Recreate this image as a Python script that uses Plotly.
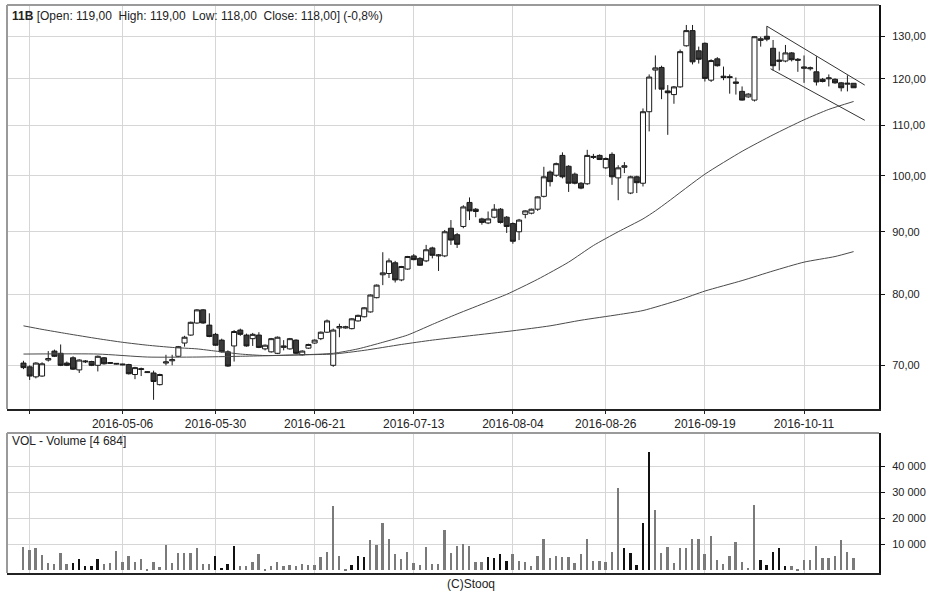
import pandas as pd
import plotly.graph_objects as go

# ---------------- data ----------------
holidays = ["2016-05-03", "2016-05-26", "2016-08-15"]
dates = [d.strftime("%Y-%m-%d") for d in pd.bdate_range("2016-04-13", "2016-10-21")
         if d.strftime("%Y-%m-%d") not in holidays]
xpos = list(range(len(dates)))

opens = [70.3, 69.8, 68.5, 68.6, 70.7, 71.9, 71.6, 70.3, 71.0, 69.4,
         70.45, 70.5, 70.0, 71.0, 70.25, 70.15, 70.05, 70.1, 68.8, 69.45,
         69.05, 69.0, 67.5, 70.3, 70.6, 71.2, 73.0, 74.1, 75.8, 77.7,
         75.5, 74.2, 73.4, 71.8, 72.6, 74.8, 74.1, 73.6, 74.1, 72.2,
         71.8, 71.6, 72.4, 72.2, 73.4, 71.4, 72.3, 73.0, 73.6, 74.5,
         70.0, 75.1, 75.1, 75.0, 76.1, 76.7, 77.4, 79.5, 83.0, 83.2,
         84.9, 82.2, 83.9, 86.0, 85.6, 85.2, 87.3, 86.0, 86.0, 90.6,
         89.5, 90.9, 95.1, 93.9, 92.2, 91.5, 92.5, 93.9, 92.5, 91.4,
         90.0, 93.0, 93.2, 93.9, 96.2, 100.7, 100.1, 103.9, 101.8, 100.3,
         98.6, 98.5, 103.5, 103.9, 101.5, 104.1, 99.6, 101.6, 96.8, 99.8,
         98.6, 112.8, 122.0, 122.6, 117.3, 116.5, 118.2, 127.7, 131.4, 126.5,
         128.3, 119.7, 124.6, 120.6, 120.5, 119.3, 117.2, 116.0, 115.3, 129.0,
         130.0, 127.1, 124.0, 124.1, 126.0, 124.5, 122.4, 122.3, 121.6, 119.9,
         120.0, 119.9, 119.1, 118.8, 119.0]
highs = [70.6, 70.0, 70.4, 70.4, 71.9, 72.1, 72.8, 70.5, 71.2, 70.8,
         70.7, 70.6, 71.3, 71.1, 70.4, 70.3, 70.2, 70.2, 69.8, 69.7,
         69.2, 69.3, 68.9, 71.4, 71.4, 72.6, 74.0, 76.0, 77.8, 77.8,
         77.2, 74.4, 73.6, 72.0, 74.8, 75.0, 74.3, 74.4, 74.5, 72.8,
         73.7, 73.9, 73.4, 73.7, 73.5, 72.0, 72.9, 73.5, 74.6, 76.3,
         75.0, 75.7, 75.4, 76.5, 77.0, 78.1, 80.0, 81.5, 86.6, 85.6,
         85.2, 84.4, 86.0, 86.3, 85.8, 87.8, 87.5, 86.3, 90.3, 92.0,
         89.8, 94.6, 96.0, 94.1, 92.4, 93.5, 94.8, 94.1, 92.7, 91.6,
         92.2, 93.7, 94.0, 96.2, 101.7, 101.0, 102.5, 104.5, 102.0, 100.6,
         98.8, 105.0, 104.2, 104.1, 103.5, 104.5, 102.0, 102.6, 100.0, 100.0,
         113.5, 121.0, 125.4, 123.0, 118.6, 118.4, 126.8, 132.8, 132.8, 127.5,
         128.5, 124.5, 125.0, 122.8, 121.0, 120.3, 118.3, 116.8, 130.0, 129.9,
         132.5, 129.1, 126.3, 127.9, 126.2, 124.8, 125.4, 122.8, 125.2, 120.2,
         121.0, 120.1, 119.3, 120.8, 119.0]
lows = [69.5, 68.1, 68.3, 68.5, 70.5, 71.1, 69.9, 69.9, 69.4, 69.0,
        70.3, 69.9, 69.2, 70.1, 70.2, 70.1, 70.0, 68.8, 68.2, 68.6,
        69.0, 65.6, 67.4, 70.0, 70.0, 71.1, 72.5, 74.0, 75.7, 75.7,
        73.8, 72.6, 71.7, 69.8, 70.5, 74.0, 72.5, 72.6, 72.3, 72.0,
        71.7, 71.5, 72.0, 72.1, 71.5, 71.3, 72.2, 72.9, 73.4, 74.4,
        69.8, 73.8, 75.0, 74.9, 76.0, 76.6, 77.3, 79.4, 81.4, 82.5,
        81.8, 82.0, 83.8, 85.3, 84.4, 85.0, 85.6, 83.6, 85.8, 87.8,
        87.3, 90.6, 92.0, 92.5, 91.2, 91.3, 92.3, 91.4, 89.8, 88.0,
        88.6, 92.3, 93.0, 93.6, 96.0, 98.0, 99.8, 99.5, 97.0, 98.4,
        97.5, 98.3, 103.2, 103.0, 101.3, 98.3, 95.5, 100.5, 96.6, 96.8,
        98.0, 108.7, 117.6, 115.5, 108.0, 114.5, 118.0, 127.5, 123.3, 123.5,
        119.4, 119.3, 122.8, 119.7, 116.7, 116.5, 115.2, 115.8, 115.0, 127.5,
        128.8, 121.9, 121.9, 123.8, 124.0, 121.6, 119.1, 121.9, 118.5, 119.2,
        118.3, 118.9, 117.2, 117.2, 118.0]
closes = [69.7, 68.6, 70.3, 70.2, 70.9, 71.2, 70.0, 70.0, 69.5, 70.7,
          70.55, 70.0, 71.2, 70.2, 70.35, 70.25, 70.15, 68.9, 69.7, 69.55,
          69.15, 67.9, 68.8, 70.45, 70.75, 72.5, 73.8, 75.9, 77.7, 75.8,
          73.9, 72.7, 71.8, 69.9, 74.6, 74.2, 72.6, 74.2, 72.4, 72.7,
          73.6, 73.8, 72.6, 73.6, 71.6, 71.9, 72.8, 73.4, 74.5, 76.1,
          74.8, 75.3, 75.25, 76.4, 76.9, 78.0, 79.9, 81.4, 83.3, 85.2,
          82.2, 84.3, 85.9, 85.4, 84.5, 87.0, 86.1, 86.15, 90.0, 88.6,
          87.9, 94.3, 93.6, 93.5, 91.6, 92.2, 93.9, 91.6, 90.9, 88.4,
          92.0, 93.6, 93.9, 96.1, 99.8, 98.9, 102.3, 99.8, 98.6, 98.6,
          97.7, 103.9, 103.7, 103.1, 103.3, 99.8, 101.5, 101.9, 99.8, 98.7,
          112.8, 120.4, 122.5, 117.7, 116.9, 118.2, 126.3, 131.4, 123.9, 124.5,
          120.1, 124.2, 123.0, 120.3, 120.3, 119.0, 115.3, 116.6, 129.9, 129.4,
          129.3, 123.0, 124.3, 126.0, 124.4, 124.3, 122.7, 122.5, 119.3, 119.4,
          120.2, 119.1, 118.0, 119.0, 118.0]
volumes = [9000, 7700, 8600, 5800, 2800, 2300, 6700, 2600, 2800, 4400,
           1800, 1800, 4400, 2300, 2800, 7400, 3300, 5600, 3300, 4400,
           400, 3300, 1300, 9900, 2800, 6700, 6700, 6700, 8600, 2300,
           2300, 5500, 1000, 2300, 9400, 1700, 1700, 3100, 6200, 400,
           1500, 3200, 1800, 2100, 1800, 2300, 2100, 2100, 5100, 6900,
           24700, 5600, 400, 2100, 5500, 5100, 11500, 9700, 18200, 12200,
           6400, 4500, 6900, 2800, 2100, 9000, 2600, 2600, 15600, 6700,
           9500, 10000, 9200, 3200, 3200, 5100, 4900, 6200, 3800, 6200,
           3800, 3200, 1700, 5500, 11900, 4900, 5500, 5300, 5300, 2800,
           6200, 11900, 3800, 3800, 3200, 6900, 31800, 8700, 6700, 2100,
           18300, 45600, 23300, 6700, 9000, 2800, 8500, 8700, 11900, 11900,
           6200, 13200, 4100, 2300, 5400, 11000, 3200, 900, 25000, 4100,
           2100, 6900, 8700, 1500, 1800, 400, 4100, 4100, 9200, 4900,
           4900, 5400, 11500, 6900, 4684]
dark_volume_bars = [8, 9, 10, 11, 12, 31, 32, 33, 34, 53, 54, 55,
                    75, 76, 77, 78, 97, 98, 99, 100, 101, 119, 120, 121, 122, 123]

ma_fast_x = [0, 12, 20, 28, 35, 45, 50, 54, 58, 62, 66, 70, 75, 78, 83, 88,
             92, 96, 100, 102, 104, 110, 116, 121, 126, 130, 134]
ma_fast = [71.5, 71.5, 71.1, 71.1, 71.2, 71.4, 71.6, 72.2, 73.1, 74.1, 75.6, 77.1,
           78.9, 80.0, 82.3, 85.0, 87.7, 90.0, 92.2, 93.6, 95.2, 100.3, 104.7,
           108.0, 111.1, 113.3, 115.0]
ma_slow_x = [0, 3, 7, 12, 16, 20, 24, 28, 31, 35, 39, 45, 50, 55, 61, 66, 72,
             79, 85, 90, 96, 100, 106, 110, 116, 121, 126, 131, 134]
ma_slow = [75.4, 74.9, 74.3, 73.6, 73.1, 72.7, 72.4, 72.2, 71.9, 71.5, 71.3,
           71.4, 71.5, 72.0, 72.8, 73.4, 74.0, 74.7, 75.4, 76.2, 77.0, 77.6,
           79.2, 80.5, 82.1, 83.6, 85.0, 85.9, 86.7]

channel_top_x = [120.0, 135.8]
channel_top = [132.5, 118.6]
channel_bottom_x = [120.6, 135.8]
channel_bottom = [122.3, 111.0]

date_ticks = ["2016-04-14", "2016-05-06", "2016-05-30", "2016-06-21", "2016-07-13",
              "2016-08-04", "2016-08-26", "2016-09-19", "2016-10-11"]
date_tick_text = [""] + date_ticks[1:]
price_ticks = [70, 80, 90, 100, 110, 120, 130]
volume_ticks = [10000, 20000, 30000, 40000]

# ---------------- figure ----------------
W, H = 948, 593
ML, MR, MT, MB = 7, 69, 5, 20
PW, PH = W - ML - MR, H - MT - MB


def py(yp):  # screen px -> paper fraction
    return (H - MB - yp) / PH


def px(xp):
    return (xp - ML) / PW


FONT = "Liberation Sans, Arial, sans-serif"
GRID = "#d6d6d6"
TXT = "#222222"
price_dom = [py(409), 1]
vol_dom = [0, py(433)]

fmt_price = lambda v: f"{v:.2f}".replace(".", ",")
fmt_vol = lambda v: f"{v:,}".replace(",", " ")

fig = go.Figure()
fig.add_trace(go.Candlestick(
    x=xpos, open=opens, high=highs, low=lows, close=closes,
    increasing=dict(line=dict(color="#1a1a1a", width=1), fillcolor="#ffffff"),
    decreasing=dict(line=dict(color="#1a1a1a", width=1), fillcolor="#3a3a3a"),
    whiskerwidth=0, showlegend=False, hoverinfo="skip", xaxis="x", yaxis="y"))
fig.add_trace(go.Scatter(x=ma_slow_x, y=ma_slow, mode="lines",
                         line=dict(color="#4a4a4a", width=1, shape="spline", smoothing=0.6),
                         showlegend=False, hoverinfo="skip", xaxis="x", yaxis="y"))
fig.add_trace(go.Scatter(x=ma_fast_x, y=ma_fast, mode="lines",
                         line=dict(color="#4a4a4a", width=1, shape="spline", smoothing=0.6),
                         showlegend=False, hoverinfo="skip", xaxis="x", yaxis="y"))
for cx, cy in ((channel_top_x, channel_top), (channel_bottom_x, channel_bottom)):
    fig.add_trace(go.Scatter(x=cx, y=cy, mode="lines",
                             line=dict(color="#333333", width=1), showlegend=False,
                             hoverinfo="skip", xaxis="x", yaxis="y"))

vol_colors = ["#111111" if i in dark_volume_bars else "#7a7a7a" for i in xpos]
fig.add_trace(go.Bar(x=xpos, y=volumes, marker=dict(color=vol_colors, line=dict(width=0)),
                     width=0.3, showlegend=False, hoverinfo="skip", xaxis="x2", yaxis="y2"))

tick_idx = [dates.index(d) for d in date_ticks]
xr = [-2.66, 138.1]
common_x = dict(range=xr, tickvals=tick_idx, showgrid=True, gridcolor=GRID, gridwidth=1,
                zeroline=False, showline=True, linecolor="#222222", linewidth=2,
                fixedrange=True)
common_y = dict(side="right", showgrid=True, gridcolor=GRID, gridwidth=1, zeroline=False,
                showline=True, linecolor="#111111", linewidth=2, ticks="outside",
                ticklen=4, tickcolor="#111111", ticklabelstandoff=5,
                tickfont=dict(family=FONT, size=11, color=TXT))

header = (f"<b>11B</b> [Open: {fmt_price(opens[-1])}  High: {fmt_price(highs[-1])}  "
          f"Low: {fmt_price(lows[-1])}  Close: {fmt_price(closes[-1])}] "
          f"({fmt_price((closes[-1] / closes[-2] - 1) * 100)[:-1]}%)")
vol_header = f"VOL - Volume [{fmt_vol(volumes[-1])}]"

fig.update_layout(
    width=W, height=H, margin=dict(l=ML, r=MR, t=MT, b=MB),
    paper_bgcolor="white", plot_bgcolor="white", showlegend=False,
    font=dict(family=FONT, size=11, color=TXT),
    boxgap=0.1, boxgroupgap=0.1,
    xaxis=dict(**common_x, anchor="y", ticktext=date_tick_text, ticks="outside",
               ticklen=3, tickcolor="#222222", rangeslider=dict(visible=False),
               tickfont=dict(family=FONT, size=12, color=TXT)),
    yaxis=dict(**common_y, domain=price_dom, type="log", anchor="x",
               range=[1.80941, 2.13952], tickvals=price_ticks,
               ticktext=[fmt_price(v) for v in price_ticks]),
    xaxis2=dict(**common_x, anchor="y2", showticklabels=False, ticks=""),
    yaxis2=dict(**common_y, domain=vol_dom, anchor="x2", range=[-1000, 52800],
                tickvals=volume_ticks, ticktext=[fmt_vol(v) for v in volume_ticks]),
    bargap=0,
    shapes=[
        dict(type="line", xref="paper", yref="paper", x0=0, x1=1, y0=1, y1=1,
             line=dict(color="#9a9a9a", width=2)),
        dict(type="line", xref="paper", yref="paper", x0=0, x1=0, y0=price_dom[0], y1=1,
             line=dict(color="#9a9a9a", width=2)),
        dict(type="line", xref="paper", yref="paper", x0=0, x1=1, y0=vol_dom[1], y1=vol_dom[1],
             line=dict(color="#9a9a9a", width=2)),
        dict(type="line", xref="paper", yref="paper", x0=0, x1=0, y0=0, y1=vol_dom[1],
             line=dict(color="#9a9a9a", width=2)),
    ],
    annotations=[
        dict(text=header, xref="paper", yref="paper", x=px(10), y=py(16),
             xanchor="left", yanchor="middle", showarrow=False,
             font=dict(family=FONT, size=12, color=TXT)),
        dict(text=vol_header, xref="paper", yref="paper", x=px(10), y=py(441),
             xanchor="left", yanchor="middle", showarrow=False,
             font=dict(family=FONT, size=12, color=TXT)),
        dict(text="(C)Stooq", xref="paper", yref="paper", x=px(471), y=py(584),
             xanchor="center", yanchor="middle", showarrow=False,
             font=dict(family=FONT, size=12, color=TXT)),
    ],
)

fig.write_html("out.html", config={"displayModeBar": False},
               post_script="document.body.style.margin='0';")
